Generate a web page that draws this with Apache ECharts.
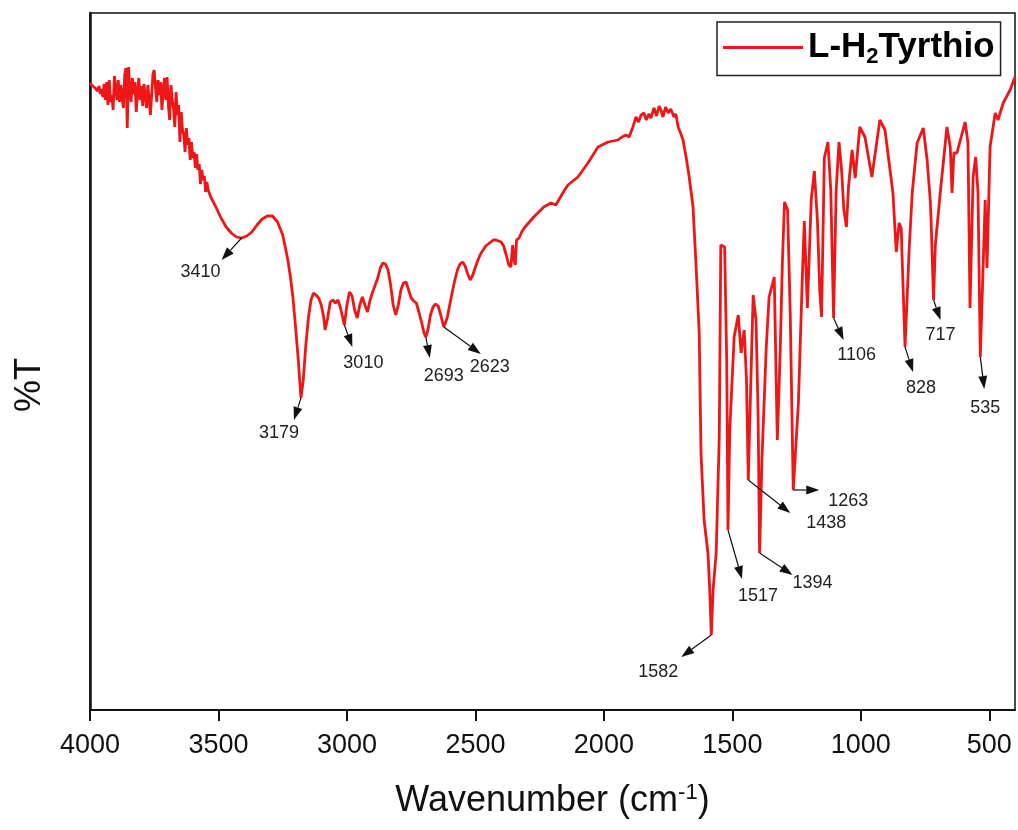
<!DOCTYPE html>
<html><head><meta charset="utf-8">
<script src="https://cdn.jsdelivr.net/npm/echarts@6/dist/echarts.min.js"></script>
<style>html,body{margin:0;padding:0;background:#fff}#c{width:1018px;height:830px}</style>
</head><body><div id="c"></div>
<script>
// ---- data ----
// noisy high-wavenumber part
const noiseWavenumber = [4000,3995,3990,3985,3980,3975,3970,3965,3960,3955,3950,3945,3940,3935,3930,3925,3920,3915,3910,3905,3900,3895,3890,3885,3880,3875,3870,3865,3860,3855,3850,3845,3840,3835,3830,3825,3820,3815,3810,3805,3800,3795,3790,3785,3780,3775,3770,3765,3760,3755,3750,3745,3740,3735,3730,3725,3720,3715,3710,3705,3700,3695,3690,3685,3680,3675,3670,3665,3660,3655,3650,3645,3640,3635,3630,3625,3620,3615,3610,3605,3600,3595,3590,3585,3580,3575,3570,3565,3560,3555,3550,3545,3540];
const noiseTransmittance = [62.7,62.6,62.4,62.5,62.2,62.3,61.9,62.4,61.6,62.1,61.3,62.6,61.0,62.8,60.5,63.0,60.8,61.5,60.0,63.4,62.0,61.0,63.0,60.8,62.5,61.2,60.2,63.5,64.2,58.2,64.3,62.0,60.8,63.2,61.6,62.8,59.8,61.8,63.2,61.0,62.4,60.4,62.6,61.4,60.2,62.5,61.2,59.5,61.5,63.6,64.0,62.2,60.8,63.0,61.5,62.8,60.0,62.0,63.2,61.0,63.3,60.5,59.0,62.5,61.0,60.2,58.3,61.8,59.5,60.5,56.8,59.8,58.0,57.5,55.8,58.2,56.5,57.2,55.0,56.8,55.2,55.8,54.2,55.6,54.0,54.6,52.6,54.0,53.0,53.4,51.8,52.8,52.0];
// rest of the spectrum
const mainWavenumber = [3530,3510,3490,3470,3450,3430,3410,3390,3370,3350,3330,3310,3290,3270,3250,3240,3230,3220,3210,3200,3190,3179,3170,3160,3150,3140,3130,3120,3110,3100,3090,3085,3075,3065,3055,3045,3035,3025,3010,3000,2990,2980,2970,2960,2950,2940,2930,2920,2910,2900,2890,2880,2870,2860,2850,2840,2830,2820,2810,2800,2790,2780,2770,2760,2750,2740,2730,2720,2710,2700,2693,2685,2675,2665,2655,2645,2635,2623,2610,2600,2590,2580,2570,2560,2550,2540,2530,2520,2510,2500,2490,2480,2470,2460,2450,2440,2430,2420,2410,2400,2390,2380,2370,2362,2355,2350,2345,2340,2330,2320,2310,2300,2273,2234,2206,2187,2160,2140,2101,2062,2023,1984,1945,1930,1914,1902,1887,1875,1865,1855,1844,1835,1825,1817,1805,1795,1785,1778,1770,1760,1750,1740,1727,1720,1711,1700,1692,1680,1668,1653,1641,1629,1622,1610,1595,1588,1582,1575,1563,1551,1545,1530,1522,1517,1510,1493,1477,1466,1454,1445,1438,1428,1419,1408,1400,1394,1385,1368,1357,1337,1325,1314,1305,1297,1285,1275,1263,1243,1228,1220,1208,1193,1181,1169,1160,1153,1142,1128,1117,1106,1096,1085,1075,1066,1056,1048,1034,1022,1004,984,957,926,906,875,862,851,843,828,812,800,781,757,742,730,727,717,710,691,665,652,645,638,626,594,583,575,563,553,544,535,516,509,497,477,466,446,419,400];
const mainTransmittance = [51.3,50.3,49.2,48.3,47.7,47.3,47.2,47.4,47.8,48.5,49.1,49.4,49.4,48.8,47.5,46.3,45.0,43.3,41.2,38.3,35.2,31.2,33.0,36.5,39.2,41.0,41.7,41.5,41.2,40.5,39.2,38.0,39.2,40.8,41.0,40.7,41.0,40.2,38.5,40.5,41.8,41.4,40.0,39.2,40.5,41.3,40.5,39.8,41.0,41.8,42.5,43.2,44.2,44.7,44.6,44.0,42.5,40.5,39.5,40.5,42.0,42.7,42.8,42.0,41.2,40.9,40.7,39.8,38.8,37.7,37.3,38.0,39.5,40.3,40.6,40.4,39.5,38.3,39.2,40.5,41.8,43.0,44.0,44.6,44.8,44.4,43.6,43.0,43.5,44.3,45.0,45.6,46.0,46.4,46.6,46.8,47.0,47.0,46.9,46.8,46.4,45.5,44.5,44.3,46.5,45.0,44.5,47.0,47.2,47.8,48.2,48.5,49.3,50.3,50.7,50.5,51.7,52.5,53.3,54.7,56.3,56.8,57.0,57.3,57.5,57.3,58.3,59.3,58.8,59.5,59.7,59.0,59.6,59.2,60.2,59.4,60.4,60.0,59.3,60.3,59.7,60.1,59.3,59.6,58.3,57.6,57.0,55.3,53.3,50.3,44.3,37.7,25.7,19.0,15.7,12.0,7.5,12.0,15.7,27.3,46.5,46.3,35.0,18.0,28.0,37.3,39.5,35.7,38.0,33.0,23.0,33.0,41.5,39.0,30.0,15.7,25.0,36.3,41.3,43.3,27.0,35.7,45.0,50.8,50.0,40.0,22.0,30.7,43.0,48.9,40.2,51.0,53.9,49.0,42.0,39.3,55.2,56.8,52.0,39.2,52.0,56.8,54.0,50.0,48.3,52.3,56.0,53.2,58.3,57.3,53.3,59.0,58.0,51.7,45.8,48.7,48.2,36.3,46.0,51.7,56.7,58.2,55.0,51.0,49.3,41.0,46.5,51.7,58.3,56.3,51.7,55.7,55.7,58.8,56.7,40.2,53.3,55.3,51.7,35.3,51.0,44.2,56.3,59.7,59.0,60.7,62.0,63.3];
const xTicks = [4000,3500,3000,2500,2000,1500,1000,500];
const seriesName = 'L-H2Tyrthio';
const peakLabels = [3410,3179,3010,2693,2623,1582,1517,1438,1394,1263,1106,828,717,535];

// ---- annotation layout (pixel offsets from each peak) ----
const arrowTipOffset = [[-20,22],[-7,22],[8,22],[4,21],[37,27],[-30,22],[14,49],[42,33],[33,22],[26,0],[10,22],[8,25],[7,20],[4,32]];
const labelOffset = [[-41,34],[-22,35],[19,38],[18,39],[46,40],[-53,37],[30,66],[78,43],[53,30],[55,11],[23,37],[16,41],[7,35],[5,51]];

const wavenumber = noiseWavenumber.concat(mainWavenumber);
const transmittance = noiseTransmittance.concat(mainTransmittance);

const FONT = '"Liberation Sans", Arial, sans-serif';
const RED = '#ee1616';
const chart = echarts.init(document.getElementById('c'), null, {renderer:'canvas'});

const option = {
  animation: false,
  backgroundColor: '#fff',
  grid: {left: 90, right: 3, top: 13, bottom: 120, show: true, borderColor: '#111', borderWidth: 1.5, backgroundColor: 'transparent'},
  legend: {
    left: 717, top: 22, padding: [8, 6, 8, 6], itemWidth: 80, itemHeight: 3,
    borderColor: '#222', borderWidth: 1.5, backgroundColor: '#fff',
    data: [{name: seriesName, icon: 'rect', itemStyle: {color: RED}}],
    formatter: () => 'L-H{sub|2}Tyrthio',
    textStyle: {fontFamily: FONT, fontWeight: 'bold', fontSize: 35, color: '#000',
      rich: {sub: {fontFamily: FONT, fontWeight: 'bold', fontSize: 22, color: '#000', padding: [18, 0, 0, 0]}}}
  },
  xAxis: {
    type: 'value', min: 400, max: 4000, inverse: true,
    name: 'Wavenumber (cm{sup|-1})', nameLocation: 'middle', nameGap: 72,
    nameTextStyle: {fontFamily: FONT, fontSize: 36, color: '#111',
      rich: {sup: {fontFamily: FONT, fontSize: 22, color: '#111', padding: [0, 0, 16, 0]}}},
    axisLine: {show: true, lineStyle: {color: '#111', width: 2}},
    axisTick: {show: true, inside: false, length: 11, customValues: xTicks, lineStyle: {color: '#111', width: 2}},
    axisLabel: {show: true, customValues: xTicks, margin: 22, fontFamily: FONT, fontSize: 27, color: '#111', formatter: v => String(v)},
    splitLine: {show: false}
  },
  yAxis: {
    type: 'value', min: 0, max: 69.7,
    axisLine: {show: true, lineStyle: {color: '#111', width: 2.5}},
    axisTick: {show: false}, axisLabel: {show: false}, splitLine: {show: false}
  },
  series: [{
    name: seriesName, type: 'line', symbol: 'none', smooth: false,
    data: wavenumber.map((w, i) => [w, transmittance[i]]),
    lineStyle: {color: RED, width: 2.8}, itemStyle: {color: RED}
  }]
};
chart.setOption(option);

function nearestIndex(w) {
  let best = 0;
  for (let i = 1; i < wavenumber.length; i++) if (Math.abs(wavenumber[i] - w) < Math.abs(wavenumber[best] - w)) best = i;
  return best;
}

const els = [{
  type: 'text', x: 30, y: 385, rotation: Math.PI / 2,
  style: {text: '%T', font: '36px ' + FONT, fill: '#111', align: 'center', verticalAlign: 'middle'}
}];
peakLabels.forEach((w, i) => {
  const k = nearestIndex(w);
  const p = chart.convertToPixel({xAxisIndex: 0, yAxisIndex: 0}, [wavenumber[k], transmittance[k]]);
  const t = [p[0] + arrowTipOffset[i][0], p[1] + arrowTipOffset[i][1]];
  const dx = t[0] - p[0], dy = t[1] - p[1], L = Math.hypot(dx, dy) || 1;
  const ux = dx / L, uy = dy / L, hl = 13, hw = 4.5;
  const b = [t[0] - ux * hl, t[1] - uy * hl];
  els.push({type: 'line', z: 100, shape: {x1: p[0], y1: p[1], x2: b[0], y2: b[1]}, style: {stroke: '#111', lineWidth: 1.2}});
  els.push({type: 'polygon', z: 100, shape: {points: [t, [b[0] - uy * hw, b[1] + ux * hw], [b[0] + uy * hw, b[1] - ux * hw]]}, style: {fill: '#111'}});
  els.push({type: 'text', z: 100, x: p[0] + labelOffset[i][0], y: p[1] + labelOffset[i][1],
    style: {text: String(w), font: '18px ' + FONT, fill: '#222', align: 'center', verticalAlign: 'middle'}});
});
chart.setOption({graphic: els});
</script>
</body></html>
